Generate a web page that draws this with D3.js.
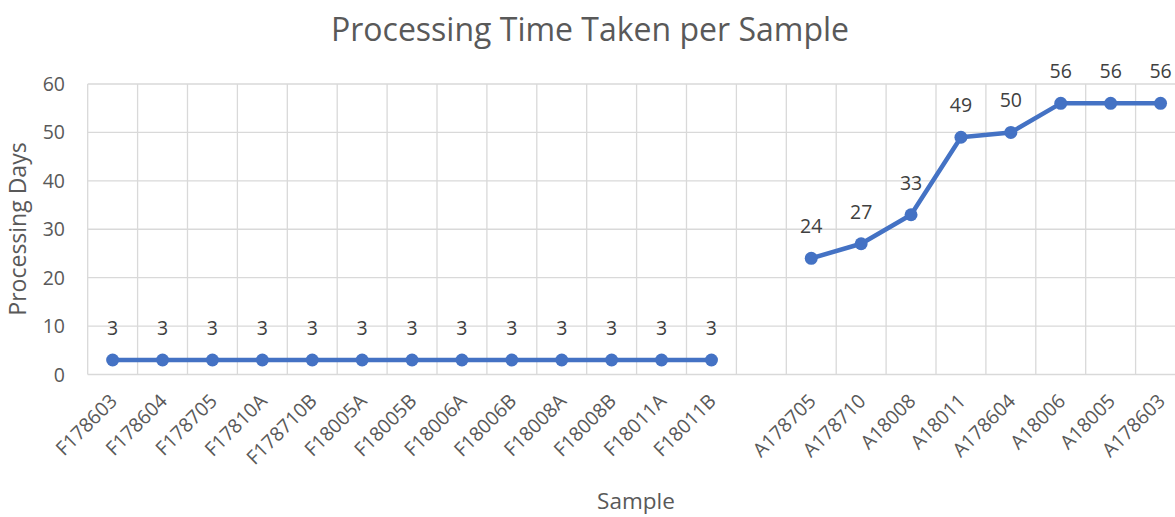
<!DOCTYPE html>
<html>
<head>
<meta charset="utf-8">
<script src="https://cdn.jsdelivr.net/npm/d3@7"></script>
<style>
  html, body { margin: 0; padding: 0; background: #fff; overflow: hidden; }
  svg { display: block; font-family: "Open Sans", "Noto Sans", sans-serif; }
</style>
</head>
<body>
<svg id="chart" width="1175" height="517"></svg>
<script>
// Samples in display order; the blank slot separates the F and A groups
const samples = [
  "F178603", "F178604", "F178705", "F17810A", "F178710B", "F18005A", "F18005B",
  "F18006A", "F18006B", "F18008A", "F18008B", "F18011A", "F18011B",
  "",
  "A178705", "A178710", "A18008", "A18011", "A178604", "A18006", "A18005", "A178603"
];
// Processing days per sample (null = no value, gap in the line)
const days = [
  3, 3, 3, 3, 3, 3, 3, 3, 3, 3, 3, 3, 3,
  null,
  24, 27, 33, 49, 50, 56, 56, 56
];
const yTicks = [0, 10, 20, 30, 40, 50, 60];

const svg = d3.select("#chart");
const plotLeft = 87.7, plotTop = 84, plotBottom = 374.5;
const step = 49.9;
const plotRight = plotLeft + step * samples.length;

const x = d3.scaleBand().domain(d3.range(samples.length)).range([plotLeft, plotRight]).paddingInner(0).paddingOuter(0);
const y = d3.scaleLinear().domain([0, 60]).range([plotBottom, plotTop]);

const grid = "#d9d9d9";
const tickFont = 19.5;

// Horizontal gridlines
svg.append("g").selectAll("line").data(yTicks).join("line")
  .attr("x1", plotLeft).attr("x2", plotRight)
  .attr("y1", d => y(d)).attr("y2", d => y(d))
  .attr("stroke", grid).attr("stroke-width", 1.3);

// Vertical gridlines at category boundaries
svg.append("g").selectAll("line").data(d3.range(samples.length + 1)).join("line")
  .attr("x1", i => plotLeft + i * step).attr("x2", i => plotLeft + i * step)
  .attr("y1", plotTop).attr("y2", plotBottom)
  .attr("stroke", grid).attr("stroke-width", 1.3);

// Y tick labels
svg.append("g").selectAll("text").data(yTicks).join("text")
  .attr("x", 65).attr("y", d => y(d))
  .attr("dy", "0.36em")
  .attr("text-anchor", "end")
  .attr("fill", "#595959").attr("font-size", tickFont)
  .text(d => d);

// X tick labels, rotated
svg.append("g").selectAll("text").data(samples.map((s, i) => ({ s, i })).filter(d => d.s)).join("text")
  .attr("transform", d => `translate(${x(d.i) + x.bandwidth() / 2 + 1},${plotBottom + 23}) rotate(-45)`)
  .attr("text-anchor", "end")
  .attr("dy", "0.35em")
  .attr("fill", "#595959").attr("font-size", tickFont)
  .text(d => d.s);

// Line, with gaps where there is no value
const cx = i => x(i) + x.bandwidth() / 2;
const line = d3.line()
  .defined(d => d != null)
  .x((d, i) => cx(i))
  .y(d => y(d));

svg.append("path")
  .datum(days)
  .attr("d", line)
  .attr("fill", "none")
  .attr("stroke", "#4472C4")
  .attr("stroke-width", 4.5)
  .attr("stroke-linejoin", "round");

const pts = days.map((v, i) => ({ v, i })).filter(d => d.v != null);

svg.append("g").selectAll("circle").data(pts).join("circle")
  .attr("cx", d => cx(d.i)).attr("cy", d => y(d.v))
  .attr("r", 6.5)
  .attr("fill", "#4472C4");

// Value labels above points
svg.append("g").selectAll("text").data(pts).join("text")
  .attr("x", d => cx(d.i)).attr("y", d => y(d.v) - 25)
  .attr("text-anchor", "middle")
  .attr("fill", "#404040").attr("font-size", tickFont)
  .text(d => d.v);

// Title
svg.append("text")
  .attr("x", 590).attr("y", 41)
  .attr("text-anchor", "middle")
  .attr("fill", "#595959").attr("font-size", 32)
  .text("Processing Time Taken per Sample");

// Axis titles
svg.append("text")
  .attr("transform", "translate(26,229) rotate(-90)")
  .attr("text-anchor", "middle")
  .attr("fill", "#595959").attr("font-size", 23)
  .text("Processing Days");

svg.append("text")
  .attr("x", 636).attr("y", 509)
  .attr("text-anchor", "middle")
  .attr("fill", "#595959").attr("font-size", 22.5)
  .text("Sample");
</script>
</body>
</html>
